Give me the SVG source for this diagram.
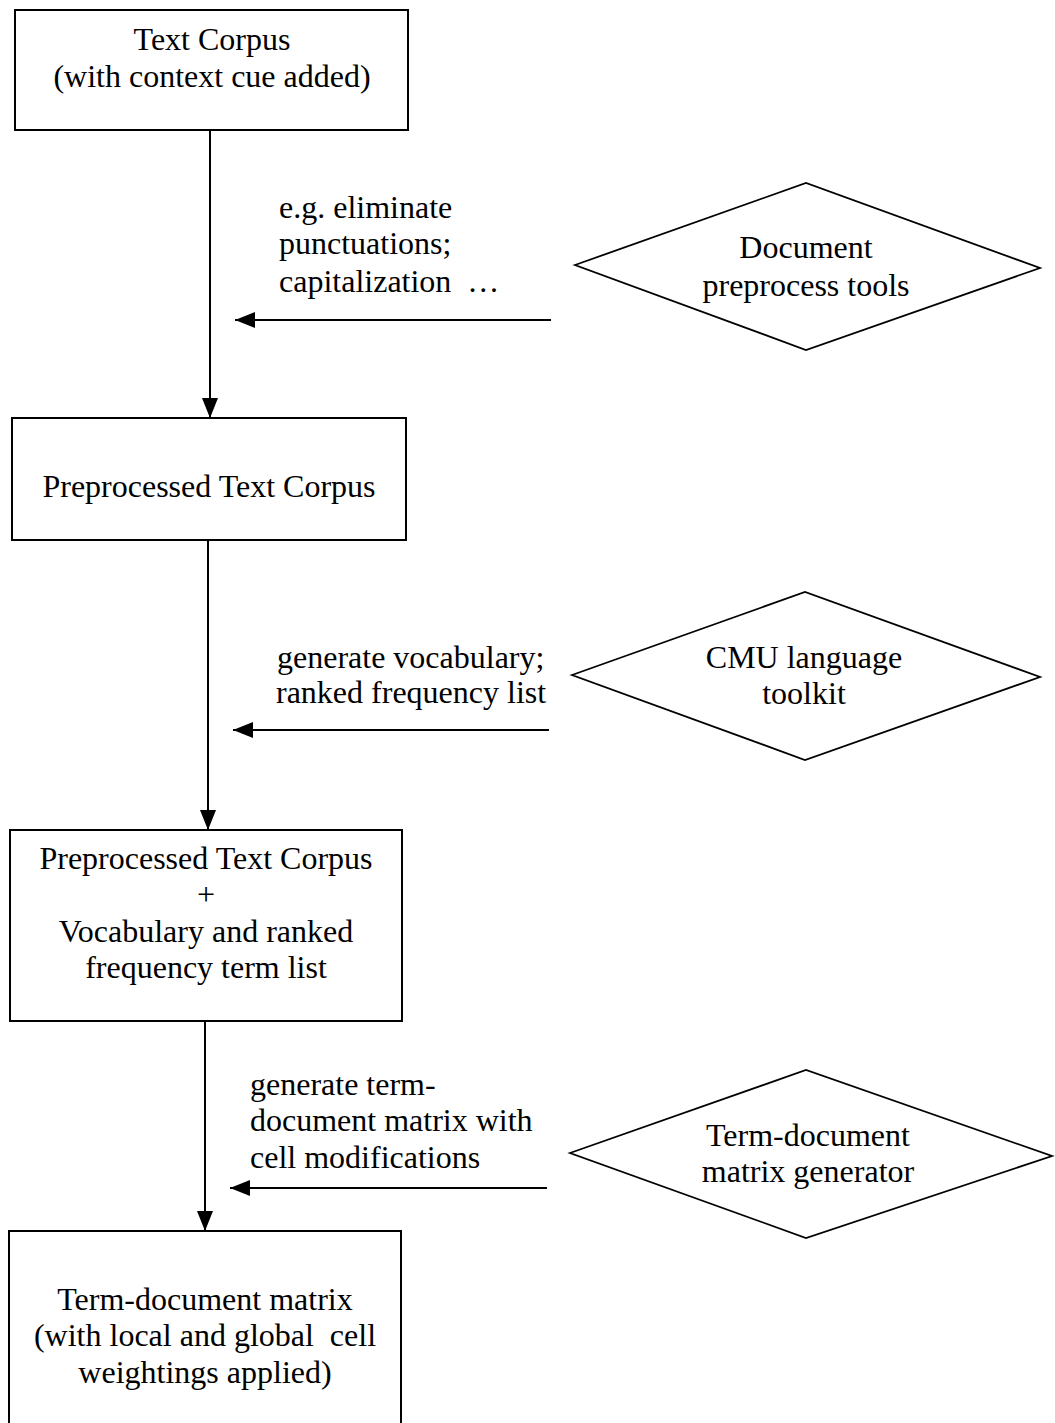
<svg xmlns="http://www.w3.org/2000/svg" width="1055" height="1423" viewBox="0 0 1055 1423">
  <style>
    .box { fill: #fff; stroke: #000; stroke-width: 2; }
    .dia { fill: #fff; stroke: #000; stroke-width: 1.8; }
    .t { font-family: "Liberation Serif", "Times New Roman", serif; font-size: 32px; fill: #000; }
    .c { text-anchor: middle; }
    .ln { stroke: #000; stroke-width: 2; fill: none; }
  </style>
  <defs>
    <marker id="ah" viewBox="0 0 20 16" refX="20" refY="8" markerWidth="20" markerHeight="16" markerUnits="userSpaceOnUse" orient="auto">
      <path d="M0,0 L20,8 L0,16 Z" fill="#000"/>
    </marker>
  </defs>
  <rect width="1055" height="1423" fill="#fff"/>

  <g id="connectors">
    <line class="ln" x1="210" y1="130" x2="210" y2="418" marker-end="url(#ah)"/>
    <line class="ln" x1="208" y1="540" x2="208" y2="830" marker-end="url(#ah)"/>
    <line class="ln" x1="205" y1="1021" x2="205" y2="1231" marker-end="url(#ah)"/>
    <line class="ln" x1="551" y1="320" x2="235" y2="320" marker-end="url(#ah)"/>
    <line class="ln" x1="549" y1="730" x2="233" y2="730" marker-end="url(#ah)"/>
    <line class="ln" x1="547" y1="1188" x2="230" y2="1188" marker-end="url(#ah)"/>
  </g>

  <g id="text-corpus">
    <rect class="box" x="15" y="10" width="393" height="120"/>
    <text class="t c" x="212" y="50">Text Corpus</text>
    <text class="t c" x="212" y="87">(with context cue added)</text>
  </g>

  <g id="preprocessed-corpus">
    <rect class="box" x="12" y="418" width="394" height="122"/>
    <text class="t c" x="209" y="497">Preprocessed Text Corpus</text>
  </g>

  <g id="corpus-vocabulary">
    <rect class="box" x="10" y="830" width="392" height="191"/>
    <text class="t c" x="206" y="869">Preprocessed Text Corpus</text>
    <text class="t c" x="206" y="905">+</text>
    <text class="t c" x="206" y="942">Vocabulary and ranked</text>
    <text class="t c" x="206" y="978">frequency term list</text>
  </g>

  <g id="term-document-matrix">
    <rect class="box" x="9" y="1231" width="392" height="200"/>
    <text class="t c" x="205" y="1310">Term-document matrix</text>
    <text class="t c" x="205" y="1346" xml:space="preserve">(with local and global  cell</text>
    <text class="t c" x="205" y="1383">weightings applied)</text>
  </g>

  <g id="preprocess-tools">
    <polygon class="dia" points="575,265 806,183 1040,268 806,350"/>
    <text class="t c" x="806" y="258">Document</text>
    <text class="t c" x="806" y="296">preprocess tools</text>
  </g>

  <g id="cmu-toolkit">
    <polygon class="dia" points="572,675 805,592 1040,677 805,760"/>
    <text class="t c" x="804" y="668">CMU language</text>
    <text class="t c" x="804" y="704">toolkit</text>
  </g>

  <g id="matrix-generator">
    <polygon class="dia" points="570,1153 806,1070 1052,1156 806,1238"/>
    <text class="t c" x="808" y="1146">Term-document</text>
    <text class="t c" x="808" y="1182">matrix generator</text>
  </g>

  <g id="labels">
    <text class="t" x="279" y="218">e.g. eliminate</text>
    <text class="t" x="279" y="254">punctuations;</text>
    <text class="t" x="279" y="292" xml:space="preserve">capitalization  …</text>
    <text class="t" x="277" y="668">generate vocabulary;</text>
    <text class="t" x="276" y="703">ranked frequency list</text>
    <text class="t" x="250" y="1095">generate term-</text>
    <text class="t" x="250" y="1131">document matrix with</text>
    <text class="t" x="250" y="1168">cell modifications</text>
  </g>
</svg>
